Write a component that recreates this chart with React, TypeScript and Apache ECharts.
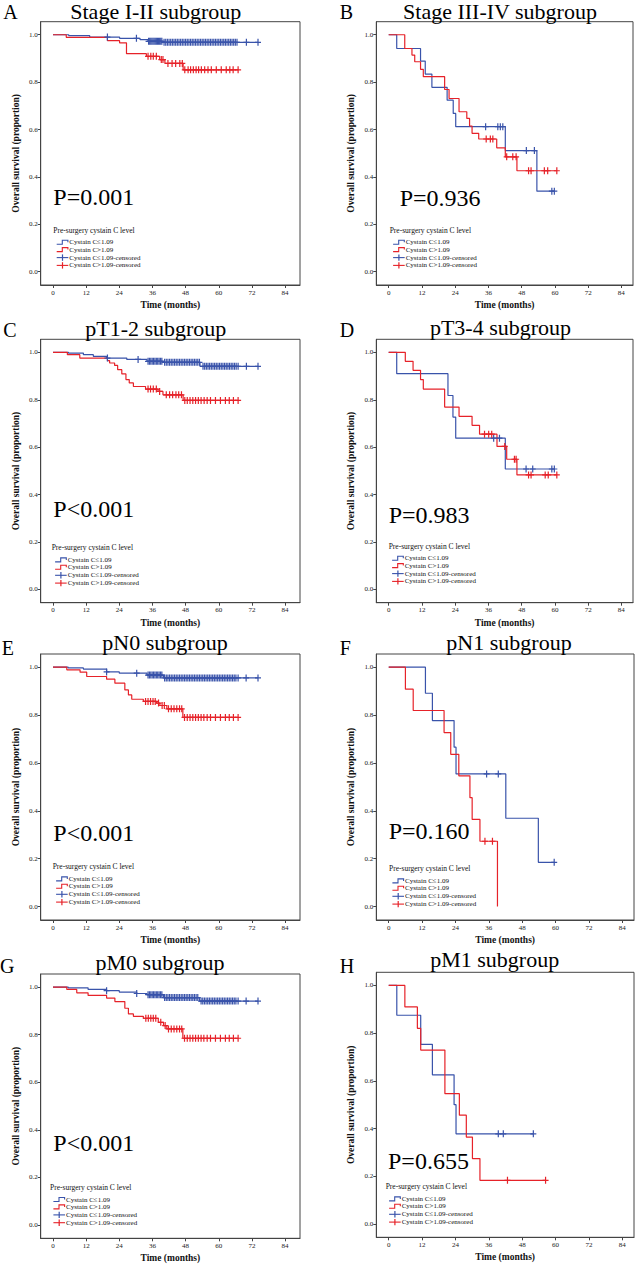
import React, { useEffect, useRef } from "react";
import * as echarts from "echarts";

// ---------- tick labels & texts ----------
const xTicks = [0, 12, 24, 36, 48, 60, 72, 84];
const yTicks = [0, 0.2, 0.4, 0.6, 0.8, 1.0];
const xAxisName = "Time (months)";
const yAxisName = "Overall survival (proportion)";
const legendTitle = "Pre-surgery cystain C level";
const legendLabels = [
  "Cystain C≤1.09",
  "Cystain C>1.09",
  "Cystain C≤1.09-censored",
  "Cystain C>1.09-censored",
];
const panelLetters = ["A", "B", "C", "D", "E", "F", "G", "H"];
const panelTitles = [
  "Stage I-II subgroup",
  "Stage III-IV subgroup",
  "pT1-2 subgroup",
  "pT3-4 subgroup",
  "pN0 subgroup",
  "pN1 subgroup",
  "pM0 subgroup",
  "pM1 subgroup",
];
const pValues = ["P=0.001", "P=0.936", "P<0.001", "P=0.983", "P<0.001", "P=0.160", "P<0.001", "P=0.655"];

// ---------- data: events [time (months), survival after event]; censored times ----------
// A: Stage I-II
const lowEventsA = [[5.7, 0.996], [13.3, 0.99], [24.1, 0.985], [31.5, 0.979], [34.4, 0.972], [39.8, 0.968]];
const lowCensA = [19.7, 30.2, 34.6, 35.0, 35.4, 35.8, 36.2, 36.6, 37.0, 37.4, 37.8, 38.2, 38.6, 39.0, 39.4, 40.2, 40.8, 41.4, 42.0, 42.6, 43.2, 43.8, 44.4, 45.0, 45.6, 46.2, 46.8, 47.4, 48.0, 48.6, 49.2, 49.8, 50.4, 51.0, 51.6, 52.2, 52.8, 53.4, 54.0, 54.6, 55.2, 55.8, 56.4, 57.0, 57.6, 58.2, 58.8, 59.4, 60.0, 60.6, 61.2, 61.8, 62.4, 63.0, 63.6, 64.2, 64.8, 65.4, 66.0, 66.6, 70.0, 74.2];
const highEventsA = [[4.8, 0.989], [19.7, 0.975], [24.1, 0.966], [26.6, 0.92], [33.8, 0.909], [38.6, 0.895], [40.5, 0.879], [47.1, 0.852]];
const highCensA = [34.4, 35.4, 36.3, 37.4, 39.2, 39.8, 41.6, 43.1, 44.4, 45.9, 46.8, 47.7, 48.9, 49.8, 50.8, 51.8, 52.7, 53.7, 54.9, 56.1, 57.3, 59.1, 60.9, 62.7, 64.0, 65.2, 67.0];

// B: Stage III-IV
const lowEventsB = [[2.9, 0.942], [11.5, 0.889], [13.2, 0.834], [15.6, 0.778], [21.1, 0.724], [23.3, 0.668], [24.2, 0.612], [42.1, 0.511], [53.5, 0.34]];
const lowCensB = [35.0, 39.4, 40.3, 41.2, 49.7, 52.6, 58.9, 59.8];
const highEventsB = [[5.8, 0.942], [8.4, 0.914], [9.4, 0.886], [11.5, 0.854], [12.5, 0.823], [20.2, 0.769], [21.8, 0.731], [25.4, 0.675], [28.2, 0.647], [29.2, 0.615], [30.1, 0.584], [32.5, 0.56], [39.0, 0.523], [42.1, 0.485], [46.3, 0.426]];
const highCensB = [35.2, 36.7, 37.6, 42.6, 44.8, 46.0, 50.5, 51.4, 56.2, 57.4, 60.7];

// C: pT1-2
const lowEventsC = [[5.6, 0.997], [11.0, 0.99], [14.6, 0.983], [19.4, 0.976], [26.7, 0.97], [34.0, 0.962], [40.0, 0.958], [53.2, 0.941]];
const lowCensC = [19.7, 30.8, 34.4, 34.9, 35.4, 35.9, 36.4, 36.9, 37.4, 37.9, 38.4, 38.9, 39.4, 40.4, 41.0, 41.6, 42.2, 42.8, 43.4, 44.0, 44.6, 45.2, 45.8, 46.4, 47.0, 47.6, 48.2, 48.8, 49.4, 50.0, 50.6, 51.2, 51.8, 52.4, 53.0, 54.3, 54.9, 55.5, 56.1, 56.7, 57.3, 57.9, 58.5, 59.1, 59.7, 60.3, 60.9, 61.5, 62.1, 62.7, 63.3, 63.9, 64.5, 65.1, 65.7, 66.3, 67.0, 70.0, 74.2];
const highEventsC = [[5.2, 0.99], [9.7, 0.976], [19.7, 0.965], [20.5, 0.955], [22.3, 0.945], [23.4, 0.927], [24.9, 0.909], [26.4, 0.885], [27.6, 0.871], [29.1, 0.856], [33.5, 0.845], [38.0, 0.835], [39.8, 0.821], [47.1, 0.797]];
const highCensC = [34.4, 35.3, 36.3, 37.4, 38.6, 41.0, 42.2, 43.3, 44.5, 45.5, 46.5, 47.7, 48.6, 49.6, 50.6, 51.6, 52.6, 53.6, 54.7, 55.8, 57.0, 58.8, 60.6, 62.4, 63.8, 65.3, 67.0];

// D: pT3-4
const lowEventsD = [[2.9, 0.91], [21.4, 0.818], [23.2, 0.727], [24.2, 0.638], [42.1, 0.508]];
const lowCensD = [37.9, 40.0, 49.6, 52.0, 58.9, 59.8];
const highEventsD = [[6.0, 0.962], [8.8, 0.924], [11.5, 0.885], [12.5, 0.845], [20.2, 0.769], [25.4, 0.73], [30.1, 0.692], [32.8, 0.655], [39.1, 0.603], [42.6, 0.549], [46.3, 0.483]];
const highCensD = [34.6, 36.1, 37.2, 41.9, 45.4, 46.0, 50.5, 51.4, 56.5, 57.6, 60.7];

// E: pN0
const lowEventsE = [[5.5, 0.997], [11.0, 0.992], [19.4, 0.98], [24.0, 0.975], [34.0, 0.967], [40.0, 0.955]];
const lowCensE = [19.4, 30.3, 34.4, 34.9, 35.4, 35.9, 36.4, 36.9, 37.4, 37.9, 38.4, 38.9, 39.4, 40.4, 41.0, 41.6, 42.2, 42.8, 43.4, 44.0, 44.6, 45.2, 45.8, 46.4, 47.0, 47.6, 48.2, 48.8, 49.4, 50.0, 50.6, 51.2, 51.8, 52.4, 53.0, 53.6, 54.2, 54.8, 55.4, 56.0, 56.6, 57.2, 57.8, 58.4, 59.0, 59.6, 60.2, 60.8, 61.4, 62.0, 62.6, 63.2, 63.8, 64.4, 65.0, 65.6, 66.2, 67.0, 69.9, 74.2];
const highEventsE = [[5.0, 0.989], [9.8, 0.979], [12.2, 0.961], [19.4, 0.95], [22.4, 0.933], [26.0, 0.905], [27.3, 0.884], [28.5, 0.866], [32.7, 0.857], [37.5, 0.85], [38.7, 0.84], [41.2, 0.826], [47.0, 0.79]];
const highCensE = [33.5, 34.4, 35.3, 36.2, 37.0, 38.2, 39.5, 40.3, 41.8, 42.8, 43.8, 44.8, 45.8, 46.6, 47.6, 48.6, 49.6, 50.6, 51.6, 52.6, 53.6, 54.6, 55.8, 57.0, 58.8, 60.6, 62.4, 63.8, 65.3, 67.0];

// F: pN1
const lowEventsF = [[13.2, 0.891], [15.7, 0.777], [23.5, 0.666], [24.2, 0.554], [42.1, 0.369], [53.8, 0.185]];
const lowCensF = [35.2, 39.4, 59.5];
const highEventsF = [[6.0, 0.908], [8.8, 0.819], [19.9, 0.727], [22.3, 0.636], [25.2, 0.546], [29.2, 0.455], [30.0, 0.364], [32.8, 0.273], [39.1, 0.0]];
const highCensF = [34.6, 37.3];

// G: pM0
const lowEventsG = [[5.5, 0.997], [12.7, 0.99], [19.4, 0.985], [24.0, 0.979], [30.3, 0.973], [34.0, 0.968], [40.0, 0.956], [53.0, 0.941]];
const lowCensG = [19.4, 30.3, 34.4, 34.9, 35.4, 35.9, 36.4, 36.9, 37.4, 37.9, 38.4, 38.9, 39.4, 40.4, 41.0, 41.6, 42.2, 42.8, 43.4, 44.0, 44.6, 45.2, 45.8, 46.4, 47.0, 47.6, 48.2, 48.8, 49.4, 50.0, 50.6, 51.2, 51.8, 52.4, 53.6, 54.2, 54.8, 55.4, 56.0, 56.6, 57.2, 57.8, 58.4, 59.0, 59.6, 60.2, 60.8, 61.4, 62.0, 62.6, 63.2, 63.8, 64.4, 65.0, 65.6, 66.2, 67.0, 69.9, 74.2];
const highEventsG = [[5.0, 0.99], [8.6, 0.976], [12.7, 0.965], [19.4, 0.954], [22.4, 0.939], [26.0, 0.911], [27.3, 0.887], [29.1, 0.877], [32.7, 0.869], [38.1, 0.852], [40.0, 0.838], [41.2, 0.824], [47.0, 0.785]];
const highCensG = [33.6, 34.5, 35.4, 36.3, 37.2, 39.0, 40.6, 41.8, 42.8, 43.8, 44.8, 45.8, 46.6, 47.6, 48.6, 49.6, 50.6, 51.6, 52.6, 53.6, 54.6, 55.8, 57.0, 58.8, 60.6, 62.4, 63.8, 65.3, 67.0];

// H: pM1
const lowEventsH = [[2.9, 0.875], [11.5, 0.753], [15.7, 0.625], [23.5, 0.5], [24.2, 0.378]];
const lowCensH = [39.4, 41.2, 52.0];
const highEventsH = [[5.8, 0.91], [10.3, 0.82], [11.5, 0.729], [20.2, 0.546], [25.4, 0.456], [27.9, 0.364], [30.1, 0.274], [32.8, 0.183]];
const highCensH = [42.7, 56.4];

const lowEvents = [lowEventsA, lowEventsB, lowEventsC, lowEventsD, lowEventsE, lowEventsF, lowEventsG, lowEventsH];
const lowCens = [lowCensA, lowCensB, lowCensC, lowCensD, lowCensE, lowCensF, lowCensG, lowCensH];
const highEvents = [highEventsA, highEventsB, highEventsC, highEventsD, highEventsE, highEventsF, highEventsG, highEventsH];
const highCens = [highCensA, highCensB, highCensC, highCensD, highCensE, highCensF, highCensG, highCensH];

// ---------- layout (pixels) ----------
const gridBoxes = [
  [40.7, 21.7, 259.3, 263.3],
  [376.3, 21.7, 256.7, 263.3],
  [40.7, 339.3, 259.3, 263.4],
  [376.3, 339.3, 256.7, 263.4],
  [40.7, 654, 259.3, 266],
  [376.3, 654, 257.7, 266],
  [40.7, 974, 259.3, 264.3],
  [376.3, 972.3, 257.7, 265],
];
const xRangeLeft = [-4.45, 89.4];
const xRangeRight = [-4.47, 88.2];
const yRange = [-0.056, 1.055];
const titlePos = [[155.8, 11.2], [500, 11.4], [155.8, 328.6], [500.5, 327.6], [165, 642.6], [509, 642.6], [160, 962.6], [494.7, 959.6]];
const letterPos = [[3.3, 11.5], [339.7, 11.5], [3.3, 330], [339.7, 330], [1.7, 647.6], [339.7, 647.6], [0, 965.6], [339.7, 965.6]];
const pPos = [[53.3, 196.7], [399.7, 198.3], [53.3, 509.3], [388.7, 515], [53.3, 832.7], [388.7, 830.7], [53.3, 1143.3], [388, 1160.7]];
const legendPos = [[53.3, 230], [389.7, 230], [51.7, 547.7], [388.7, 546], [52.7, 866.7], [389, 868.7], [50, 1187.3], [385.7, 1186.7]];

const FONT = '"Liberation Serif", "Times New Roman", serif';
const BLUE = "#3953aa";
const RED = "#e62229";
const FRAME = "#444";
const PLUS = "path://M2.4,0H3.6V2.9H6V4.1H3.6V7H2.4V4.1H0V2.9H2.4Z";

function survivalAt(events: number[][], t: number) {
  let s = 1;
  for (const [et, es] of events) if (et <= t) s = es;
  return s;
}

function curve(events: number[][], cens: number[]) {
  const pts = [[0, 1], ...events];
  const last = events[events.length - 1];
  const lastT = Math.max(...cens, last[0]);
  if (lastT > last[0]) pts.push([lastT, last[1]]);
  return pts;
}

function buildOption() {
  const grid: any[] = [];
  const xAxis: any[] = [];
  const yAxis: any[] = [];
  const series: any[] = [];
  const graphic: any[] = [];

  for (let i = 0; i < 8; i++) {
    const [l, t, w, h] = gridBoxes[i];
    const xr = i % 2 === 0 ? xRangeLeft : xRangeRight;
    grid.push({ left: l, top: t, width: w, height: h, show: true, borderColor: FRAME, borderWidth: 1, backgroundColor: "#fff" });
    xAxis.push({
      type: "value",
      gridIndex: i,
      min: xr[0],
      max: xr[1],
      name: xAxisName,
      nameLocation: "middle",
      nameGap: 15,
      nameTextStyle: { fontFamily: FONT, fontWeight: "bold", fontSize: 9.5, color: "#111" },
      axisLine: { show: true, onZero: false, lineStyle: { color: FRAME, width: 1 } },
      axisTick: { show: true, length: 3, customValues: xTicks, lineStyle: { color: FRAME } },
      axisLabel: { customValues: xTicks, fontFamily: FONT, fontSize: 7, color: "#222", margin: 4, formatter: (v: number) => String(v) },
      splitLine: { show: false },
    });
    yAxis.push({
      type: "value",
      gridIndex: i,
      min: yRange[0],
      max: yRange[1],
      name: yAxisName,
      nameLocation: "middle",
      nameGap: 20,
      nameTextStyle: { fontFamily: FONT, fontWeight: "bold", fontSize: 9.5, color: "#111" },
      axisLine: { show: true, onZero: false, lineStyle: { color: FRAME, width: 1 } },
      axisTick: { show: true, length: 3, customValues: yTicks, lineStyle: { color: FRAME } },
      axisLabel: { customValues: yTicks, fontFamily: FONT, fontSize: 7, color: "#222", margin: 3, formatter: (v: number) => v.toFixed(1) },
      splitLine: { show: false },
    });

    const groups = [
      { ev: lowEvents[i], cs: lowCens[i], color: BLUE, name: legendLabels[0], cname: legendLabels[2] },
      { ev: highEvents[i], cs: highCens[i], color: RED, name: legendLabels[1], cname: legendLabels[3] },
    ];
    for (const g of groups) {
      series.push({
        type: "line",
        name: g.name,
        xAxisIndex: i,
        yAxisIndex: i,
        step: "end",
        showSymbol: false,
        symbol: "none",
        data: curve(g.ev, g.cs),
        lineStyle: { color: g.color, width: 1.2 },
        itemStyle: { color: g.color },
        silent: true,
        z: 2,
      });
    }
    for (const g of groups) {
      series.push({
        type: "scatter",
        name: g.cname,
        xAxisIndex: i,
        yAxisIndex: i,
        symbol: PLUS,
        symbolSize: [6, 7],
        data: g.cs.map((c) => [c, survivalAt(g.ev, c)]),
        itemStyle: { color: g.color, opacity: 1 },
        silent: true,
        z: 3,
      });
    }

    // panel letter & title
    graphic.push({
      type: "text",
      x: letterPos[i][0],
      y: letterPos[i][1],
      style: { text: panelLetters[i], font: `20px ${FONT}`, fill: "#000", textVerticalAlign: "middle" },
    });
    graphic.push({
      type: "text",
      x: titlePos[i][0],
      y: titlePos[i][1],
      style: { text: panelTitles[i], font: `22px ${FONT}`, fill: "#000", textAlign: "center", textVerticalAlign: "middle" },
    });
    // P value
    graphic.push({
      type: "text",
      x: pPos[i][0],
      y: pPos[i][1],
      style: { text: pValues[i], font: `24px ${FONT}`, fill: "#000", textAlign: "left", textVerticalAlign: "middle" },
    });
    // legend
    const [lx, ly] = legendPos[i];
    const rows = [12.2, 19.6, 27.6, 35.4];
    const children: any[] = [
      { type: "text", x: 0, y: 0, style: { text: legendTitle, font: `7.5px ${FONT}`, fill: "#111", textVerticalAlign: "middle" } },
    ];
    rows.forEach((ry, k) => {
      const color = k % 2 === 0 ? BLUE : RED;
      if (k < 2) {
        children.push({
          type: "polyline",
          shape: { points: [[3.4, ry + 2], [9, ry + 2], [9, ry - 2], [14.6, ry - 2], [14.6, ry]] },
          style: { stroke: color, lineWidth: 1.1, fill: "none" },
        });
      } else {
        children.push({ type: "line", shape: { x1: 3.4, y1: ry, x2: 15, y2: ry }, style: { stroke: color, lineWidth: 1.1 } });
        children.push({ type: "line", shape: { x1: 9.2, y1: ry - 3.2, x2: 9.2, y2: ry + 3.2 }, style: { stroke: color, lineWidth: 1.2 } });
      }
      children.push({ type: "text", x: 16, y: ry, style: { text: legendLabels[k], font: `7px ${FONT}`, fill: "#111", textVerticalAlign: "middle" } });
    });
    graphic.push({ type: "group", x: lx, y: ly, children });
  }

  return { animation: false, backgroundColor: "#fff", grid, xAxis, yAxis, series, graphic };
}

export default function App() {
  const ref = useRef<HTMLDivElement>(null);
  useEffect(() => {
    if (!ref.current) return;
    const chart = echarts.init(ref.current, undefined, { renderer: "svg" });
    chart.setOption(buildOption() as any);
    return () => chart.dispose();
  }, []);
  return (
    <div
      ref={ref}
      style={{ position: "absolute", left: 0, top: 0, width: 638, height: 1267, background: "#fff" }}
    />
  );
}
